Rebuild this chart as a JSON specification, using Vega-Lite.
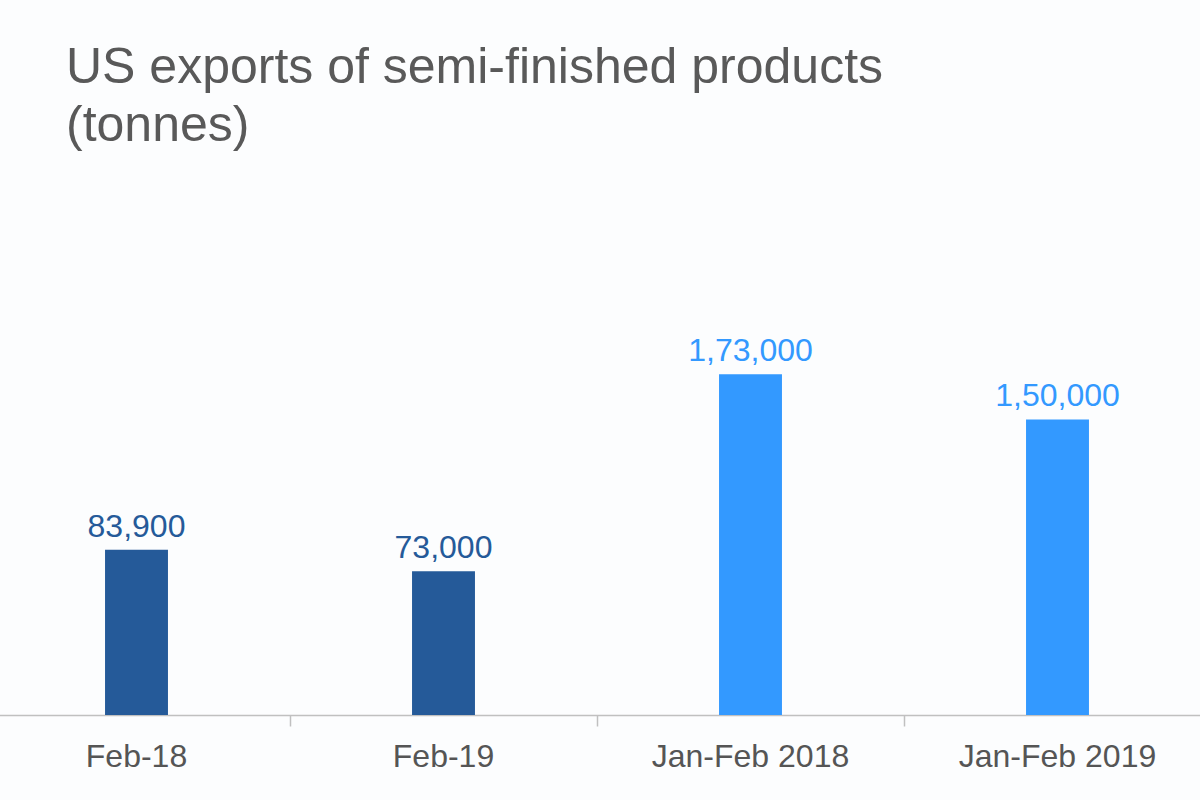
{
  "$schema": "https://vega.github.io/schema/vega-lite/v6.json",
  "width": 1200,
  "height": 515,
  "autosize": "none",
  "padding": {"left": 0, "top": 200, "right": 0, "bottom": 85},
  "background": "#fcfdfe",
  "title": {
    "text": ["US exports of semi-finished products", "(tonnes)"],
    "anchor": "start",
    "frame": "group",
    "dx": 66,
    "dy": 1,
    "offset": 50,
    "font": "Liberation Sans",
    "fontSize": 50,
    "fontWeight": "normal",
    "lineHeight": 58,
    "color": "#595959"
  },
  "data": {
    "values": [
      {"period": "Feb-18", "tonnes": 83900, "label": "83,900", "group": "Monthly"},
      {"period": "Feb-19", "tonnes": 73000, "label": "73,000", "group": "Monthly"},
      {"period": "Jan-Feb 2018", "tonnes": 173000, "label": "1,73,000", "group": "Cumulative"},
      {"period": "Jan-Feb 2019", "tonnes": 150000, "label": "1,50,000", "group": "Cumulative"}
    ]
  },
  "encoding": {
    "x": {
      "field": "period",
      "type": "nominal",
      "sort": null,
      "scale": {"range": [-17, 1211], "paddingInner": 0, "paddingOuter": 0},
      "axis": {
        "title": null,
        "labelAngle": 0,
        "bandPosition": 0,
        "labelOffset": 0,
        "labelLimit": 500,
        "labelFont": "Liberation Sans",
        "labelFontSize": 32,
        "labelColor": "#555555",
        "labelBaseline": "alphabetic",
        "labelPadding": 40,
        "tickSize": 11,
        "tickColor": "#c0c0c0",
        "tickWidth": 1.5,
        "domainColor": "#c0c0c0",
        "domainWidth": 1.5
      }
    },
    "y": {
      "field": "tonnes",
      "type": "quantitative",
      "scale": {"domain": [0, 261400], "nice": false},
      "axis": null
    },
    "color": {
      "field": "group",
      "type": "nominal",
      "scale": {"domain": ["Monthly", "Cumulative"], "range": ["#255a99", "#3399ff"]},
      "legend": null
    }
  },
  "layer": [
    {"mark": {"type": "bar", "width": {"band": 0.205}}},
    {
      "mark": {
        "type": "text",
        "baseline": "alphabetic",
        "dy": -13,
        "font": "Liberation Sans",
        "fontSize": 32
      },
      "encoding": {"text": {"field": "label"}}
    }
  ],
  "config": {"view": {"stroke": null}}
}
